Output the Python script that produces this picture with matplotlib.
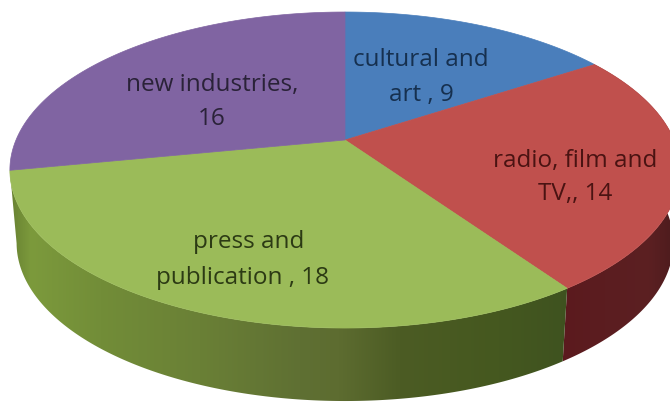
import numpy as np
import matplotlib
matplotlib.use("Agg")
import matplotlib.pyplot as plt
from matplotlib.colors import LinearSegmentedColormap
from matplotlib.patches import Polygon

# data, clockwise from 12 o'clock
names = ["cultural and art", "radio, film and TV", "press and publication", "new industries"]
values = [9, 14, 18, 16]
top_colors = ["#4a7ebb", "#c0504d", "#9bbb59", "#8064a2"]

label_lines = [["cultural and", "art , 9"], ["radio, film and", "TV,, 14"],
               ["press and", "publication , 18"], ["new industries,", "16"]]
label_colors = ["#16304f", "#4a1312", "#2c3a14", "#2a2238"]
label_x = [[421, 421], [575, 575], [249, 243], [212, 212]]
label_y = [[60, 95], [161, 194], [242, 278], [85, 119]]

# look of the tilted disc, in pixels
CX, CY = 345, 140
A, B, P = 329, 152.3, 0.19
DEPTH = 73
BOTTOM_SCALE = 0.98


def project(theta):
    u, v = np.cos(theta), np.sin(theta)
    w = 1 + P * v
    return CX + A * u / w, CY - B * v / w


def side_cmap(stops, x0, x1):
    pos = [(x - x0) / (x1 - x0) for x, _ in stops]
    return LinearSegmentedColormap.from_list("side", list(zip(pos, [c for _, c in stops])))


green_side = side_cmap([(5, "#647c30"), (30, "#7c9a3c"), (100, "#728d38"), (200, "#6a8036"),
                        (300, "#5f7033"), (340, "#5d6c30"), (400, "#4c5c24"), (500, "#45581f"),
                        (575, "#3e5220")], 5, 575)
red_side = side_cmap([(560, "#5c1a1e"), (650, "#5b2022"), (680, "#4a1a1c")], 560, 680)
side_maps = {1: (red_side, 560, 680), 2: (green_side, 5, 575)}

fig = plt.figure(figsize=(6.7, 4.03), dpi=100, facecolor="white")
ax = fig.add_axes([0, 0, 1, 1])
ax.axis("off")

edges = np.radians(90 - 360 * np.cumsum([0] + values) / sum(values))

# rim, only the two front slices can be seen
for i in side_maps:
    cmap, x0, x1 = side_maps[i]
    t = np.linspace(edges[i], edges[i + 1], 200)
    xt, yt = project(t)
    xb = CX + BOTTOM_SCALE * (xt - CX)
    yb = yt + DEPTH
    outline = Polygon(np.c_[np.r_[xt, xb[::-1]], np.r_[yt, yb[::-1]]], transform=ax.transData)
    im = ax.imshow(np.linspace(0, 1, 256)[None, :], extent=[x0, x1, 403, 0], cmap=cmap,
                   aspect="auto", zorder=2, vmin=0, vmax=1)
    im.set_clip_path(outline)

# top face
for i in range(len(values)):
    t = np.linspace(edges[i], edges[i + 1], 200)
    x, y = project(t)
    ax.fill(np.r_[CX, x], np.r_[CY, y], facecolor=top_colors[i], edgecolor=top_colors[i], lw=0.5, zorder=3)

for i in range(len(values)):
    for line, lx, ly in zip(label_lines[i], label_x[i], label_y[i]):
        ax.text(lx, ly, line, color=label_colors[i], fontsize=17.5, family="Open Sans",
                ha="center", va="center", zorder=4)

ax.set_xlim(0, 670)
ax.set_ylim(403, 0)

fig.savefig("out.png", dpi=100)
